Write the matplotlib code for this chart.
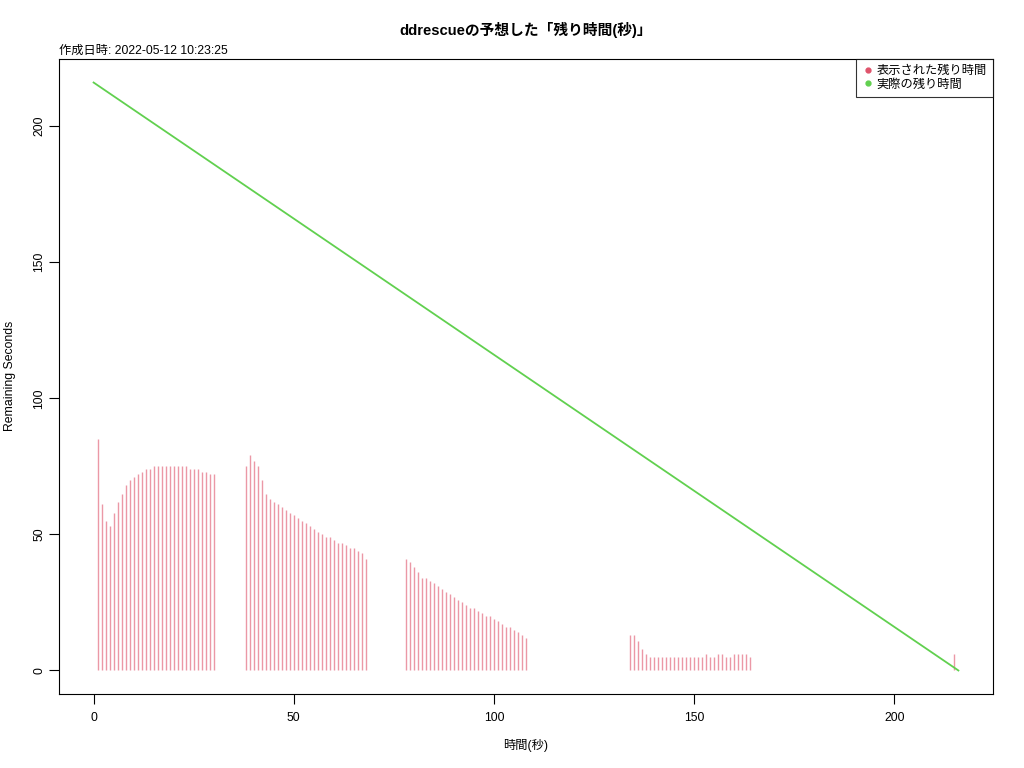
import matplotlib
matplotlib.use("Agg")
import matplotlib.pyplot as plt
from matplotlib.lines import Line2D

plt.rcParams['font.family'] = ['Liberation Sans', 'Noto Sans CJK JP', 'DejaVu Sans']

# ddrescue displayed remaining time (seconds), per elapsed second
t1 = list(range(1, 31))
r1 = [85, 61, 55, 53, 58, 62, 65, 68, 70, 71, 72, 73, 74, 74, 75, 75, 75, 75, 75, 75,
      75, 75, 75, 74, 74, 74, 73, 73, 72, 72]
t2 = list(range(38, 69))
r2 = [75, 79, 77, 75, 70, 65, 63, 62, 61, 60, 59, 58, 57, 56, 55, 54, 53, 52, 51, 50,
      49, 49, 48, 47, 47, 46, 45, 45, 44, 43, 41]
t3 = list(range(78, 109))
r3 = [41, 40, 38, 36, 34, 34, 33, 32, 31, 30, 29, 28, 27, 26, 25, 24, 23, 23, 22, 21,
      20, 20, 19, 18, 17, 16, 16, 15, 14, 13, 12]
t4 = list(range(134, 165))
r4 = [13, 13, 11, 8, 6, 5, 5, 5, 5, 5, 5, 5, 5, 5, 5, 5, 5, 5, 5, 6,
      5, 5, 6, 6, 5, 5, 6, 6, 6, 6, 5]
t5 = [215]
r5 = [6]

shown_t = t1 + t2 + t3 + t4 + t5
shown_r = r1 + r2 + r3 + r4 + r5

# actual remaining time
actual_t = [0, 216]
actual_r = [216, 0]

PINK = "#DF536B"
GREEN = "#61D04F"

fig = plt.figure(figsize=(10.24, 7.68), dpi=100)
ax = fig.add_axes([59 / 1024, 1 - 694 / 768, 934 / 1024, 635 / 768])

ax.vlines(shown_t, 0, shown_r, color=PINK, alpha=0.6, lw=1.0)
ax.plot(actual_t, actual_r, color=GREEN, lw=1.3)

ax.set_xlim(-8.64, 224.64)
ax.set_ylim(-8.64, 224.64)
ax.set_xticks([0, 50, 100, 150, 200])
ax.set_yticks([0, 50, 100, 150, 200])
ax.tick_params(direction='out', length=7, width=0.8, labelsize=8.8)
ax.tick_params(axis='x', pad=6)
ax.tick_params(axis='y', pad=7)
for lab in ax.get_yticklabels():
    lab.set_rotation(90)
    lab.set_va('center')
    lab.set_ha('center')
for s in ax.spines.values():
    s.set_linewidth(0.8)

fig.text(526 / 1024, 1 - 745 / 768, "時間(秒)", ha='center', va='center', fontsize=8.8)
fig.text(10 / 1024, 1 - 376 / 768, "Remaining Seconds", ha='center', va='center',
         rotation=90, fontsize=8.8)
fig.text(526 / 1024, 1 - 30 / 768, "ddrescueの予想した「残り時間(秒)」",
         ha='center', va='center', fontsize=10.6, fontweight='bold')
fig.text(59 / 1024, 1 - 51 / 768, "作成日時: 2022-05-12 10:23:25",
         ha='left', va='center', fontsize=8.8)

handles = [Line2D([], [], marker='o', ls='', color=PINK, markersize=3.5),
           Line2D([], [], marker='o', ls='', color=GREEN, markersize=3.5)]
leg = ax.legend(handles, ["表示された残り時間", "実際の残り時間"], loc='upper right',
                fontsize=8.8, frameon=True, fancybox=False, borderaxespad=0,
                handletextpad=0.2, handlelength=1.0, labelspacing=0.12,
                borderpad=0.5)
leg.get_frame().set_edgecolor('black')
leg.get_frame().set_linewidth(0.8)

fig.savefig("out.png", dpi=100)
